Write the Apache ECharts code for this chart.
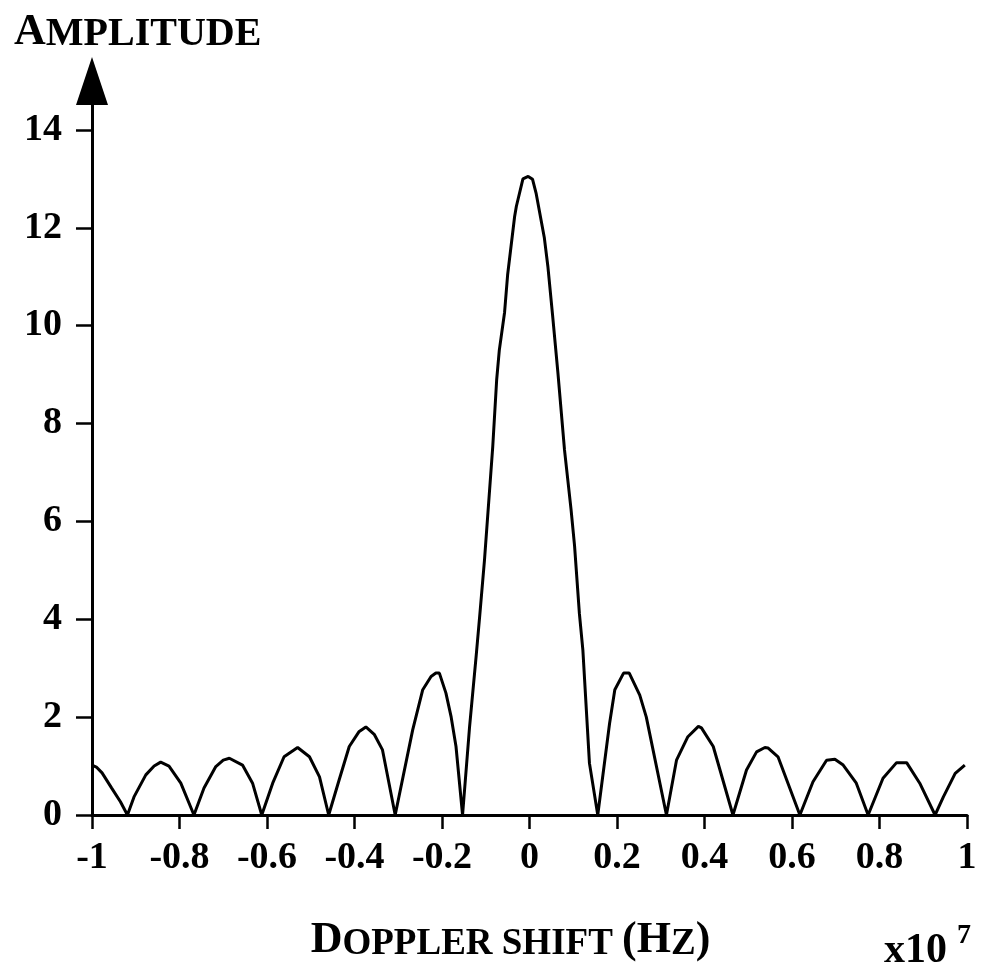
<!DOCTYPE html>
<html lang="en">
<head>
<meta charset="UTF-8">
<style>
html, body { height: 100%; margin: 0; background: #fff; }
</style>
</head>
<body>
<div id="chart" style="width:989px;height:968px;"></div>
<script src="https://cdn.jsdelivr.net/npm/echarts@6.0.0/dist/echarts.min.js"></script>
<script>
// Doppler shift in units of 1e7 Hz
var dopplerShift = [
    -1, -0.99, -0.977, -0.955, -0.935, -0.919,
    -0.904, -0.877, -0.858, -0.843, -0.824, -0.797, -0.767,
    -0.744, -0.717, -0.700, -0.686, -0.656, -0.633, -0.612,
    -0.587, -0.561, -0.530, -0.503, -0.480, -0.459,
    -0.435, -0.412, -0.390, -0.374, -0.355, -0.336, -0.307,
    -0.267, -0.244, -0.225, -0.214, -0.206, -0.191, -0.179, -0.168, -0.153,
    -0.137, -0.122, -0.114, -0.103, -0.084, -0.075, -0.069, -0.057, -0.050, -0.034, -0.030, -0.015, -0.003,
    0.007, 0.015, 0.034, 0.042, 0.053, 0.065, 0.080, 0.095, 0.103, 0.114, 0.122, 0.137, 0.156,
    0.183, 0.195, 0.215, 0.228, 0.252, 0.267, 0.313,
    0.336, 0.362, 0.386, 0.393, 0.420, 0.465,
    0.496, 0.519, 0.538, 0.545, 0.568, 0.618,
    0.648, 0.679, 0.698, 0.717, 0.747, 0.774,
    0.808, 0.839, 0.862, 0.892, 0.927,
    0.946, 0.973, 0.995
];
var amplitude = [
    1.02, 0.98, 0.86, 0.55, 0.27, 0,
    0.37, 0.82, 1.00, 1.08, 1.00, 0.65, 0,
    0.55, 0.99, 1.12, 1.16, 1.02, 0.65, 0,
    0.65, 1.19, 1.38, 1.19, 0.78, 0,
    0.72, 1.40, 1.70, 1.80, 1.65, 1.33, 0,
    1.74, 2.56, 2.83, 2.90, 2.90, 2.49, 2.00, 1.40, 0,
    1.80, 3.24, 4.05, 5.20, 7.53, 8.90, 9.50, 10.27, 11.04, 12.23, 12.44, 13.00, 13.05,
    12.99, 12.71, 11.79, 11.21, 10.19, 9.03, 7.46, 6.24, 5.50, 4.12, 3.37, 1.06, 0,
    1.87, 2.56, 2.90, 2.90, 2.45, 2.00, 0,
    1.12, 1.60, 1.81, 1.78, 1.40, 0,
    0.92, 1.29, 1.38, 1.37, 1.19, 0,
    0.68, 1.12, 1.14, 1.02, 0.65, 0,
    0.75, 1.07, 1.07, 0.65, 0,
    0.37, 0.85, 1.02
];
var xTicks = [-1, -0.8, -0.6, -0.4, -0.2, 0, 0.2, 0.4, 0.6, 0.8, 1];
var yTicks = [0, 2, 4, 6, 8, 10, 12, 14];

var points = [];
for (var i = 0; i < dopplerShift.length; i++) {
    points.push([dopplerShift[i], amplitude[i]]);
}

var serif = 'Liberation Serif';
var big = { fontFamily: serif, fontWeight: 'bold', fontSize: 44, color: '#000', verticalAlign: 'bottom' };
var small = { fontFamily: serif, fontWeight: 'bold', fontSize: 37, color: '#000', verticalAlign: 'bottom' };
var titleSmall = { fontFamily: serif, fontWeight: 'bold', fontSize: 40, color: '#000', verticalAlign: 'bottom' };

var myChart = echarts.init(document.getElementById('chart'));
myChart.setOption({
    animation: false,
    backgroundColor: '#fff',
    title: [
        {
            text: '{a|A}{b|MPLITUDE}',
            left: 9,
            top: 6,
            textStyle: { rich: { a: big, b: titleSmall } }
        },
        {
            text: 'x10',
            left: 879,
            top: 925,
            textStyle: { fontFamily: serif, fontWeight: 'bold', fontSize: 42, color: '#000' }
        },
        {
            text: '7',
            left: 952,
            top: 917,
            textStyle: { fontFamily: serif, fontWeight: 'bold', fontSize: 28, color: '#000' }
        }
    ],
    grid: {
        left: 92,
        right: 22,
        top: 81,
        bottom: 153
    },
    xAxis: {
        type: 'value',
        min: -1,
        max: 1,
        interval: 0.2,
        name: '{a|D}{b|OPPLER SHIFT }{a|(H}{b|Z}{a|)}',
        nameLocation: 'middle',
        nameGap: 104,
        nameTextStyle: { rich: { a: big, b: small }, padding: [0, 38, 0, 0] },
        axisLine: { lineStyle: { color: '#000', width: 3 } },
        axisTick: { customValues: xTicks, length: 14, lineStyle: { color: '#000', width: 2.5 } },
        axisLabel: {
            customValues: xTicks,
            margin: 24,
            color: '#000',
            fontFamily: serif,
            fontWeight: 'bold',
            fontSize: 38,
            formatter: function (v) { return String(Math.round(v * 10) / 10); }
        },
        splitLine: { show: false }
    },
    yAxis: {
        type: 'value',
        min: 0,
        max: 15,
        interval: 1,
        axisLine: {
            show: true,
            onZero: false,
            symbol: ['none', 'triangle'],
            symbolSize: [32, 48],
            lineStyle: { color: '#000', width: 3 }
        },
        axisTick: { customValues: yTicks, length: 16, lineStyle: { color: '#000', width: 2.5 } },
        axisLabel: {
            customValues: yTicks,
            margin: 30,
            color: '#000',
            fontFamily: serif,
            fontWeight: 'bold',
            fontSize: 38
        },
        splitLine: { show: false }
    },
    series: [
        {
            type: 'line',
            data: points,
            symbol: 'none',
            lineStyle: { color: '#000', width: 3 }
        }
    ]
});
</script>
</body>
</html>
